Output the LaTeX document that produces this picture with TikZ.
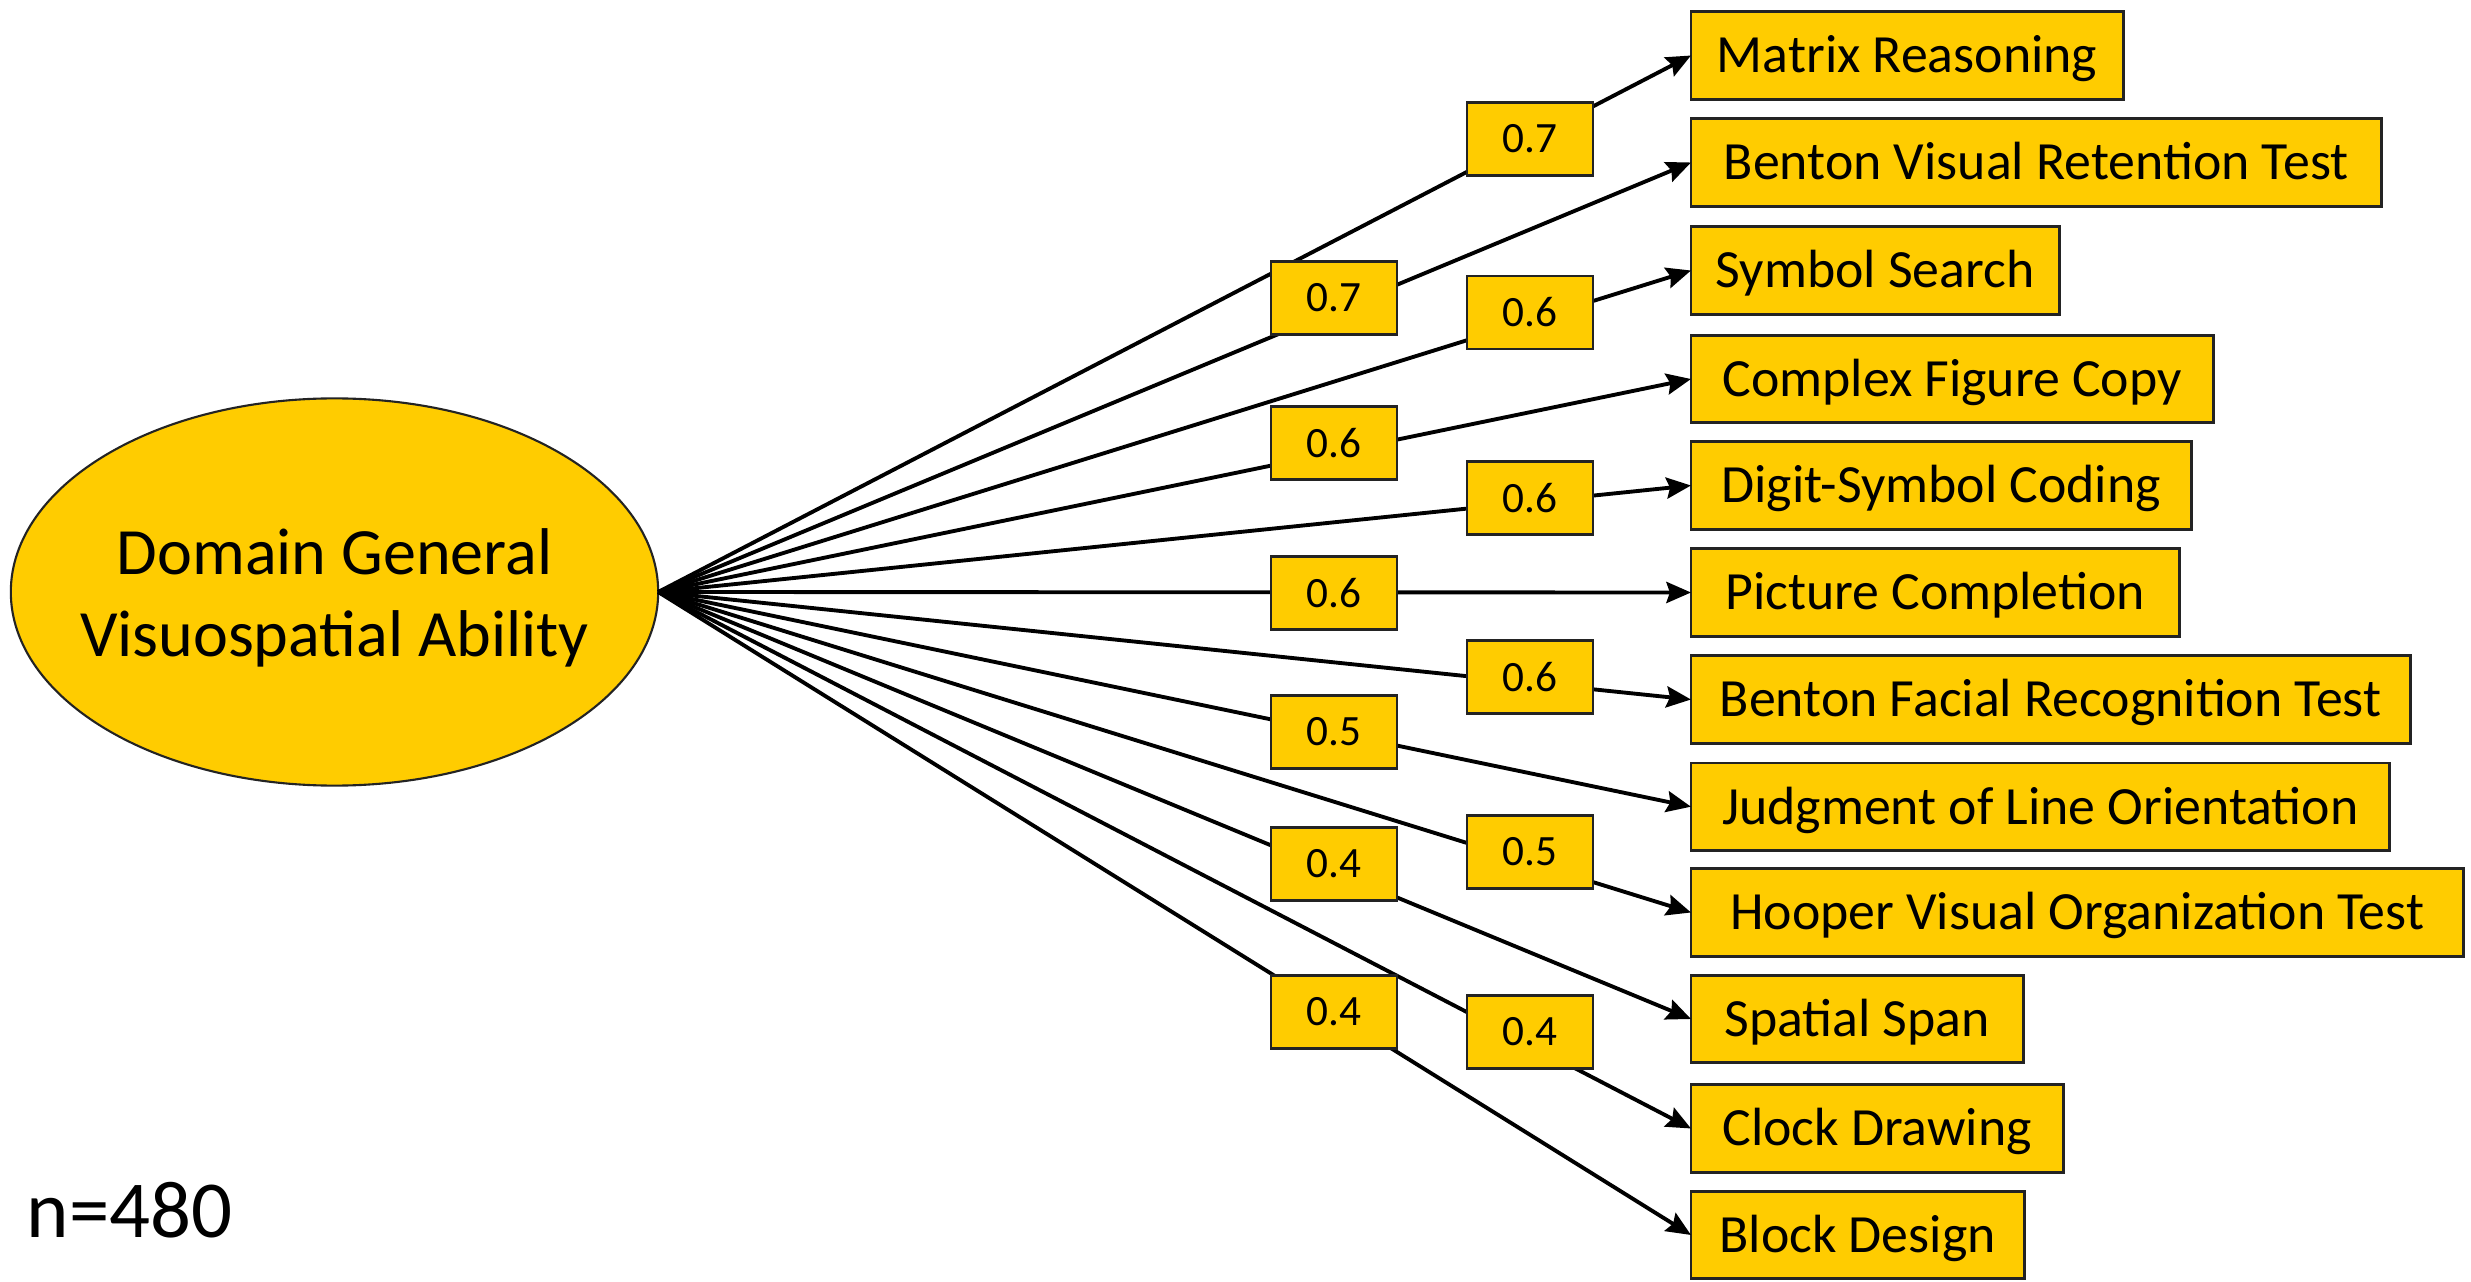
\documentclass[tikz,border=0pt]{standalone}
\usepackage{fontspec}
\setmainfont{Carlito}
\usetikzlibrary{arrows.meta,shapes.geometric}
\definecolor{gold}{RGB}{255,204,0}
\definecolor{edge}{RGB}{35,35,35}
\begin{document}
\begin{tikzpicture}[x=0.01cm,y=-0.01cm,
  latent/.style={ellipse,draw=edge,line width=0.6pt,fill=gold,inner sep=0pt,outer sep=0pt,
    minimum width=6.47cm,minimum height=3.87cm},
  latenttext/.style={align=center,inner sep=0pt,font=\fontsize{18.8}{23.3}\selectfont},
  testbox/.style={draw=edge,line width=0.8pt,fill=gold,inner sep=0pt,outer sep=0pt,
    anchor=west,minimum height=0.875cm,text height=9.9pt,text depth=0pt,
    font=\fontsize{15.3}{18}\selectfont},
  loadbox/.style={draw=edge,line width=0.8pt,fill=gold,inner sep=0pt,outer sep=0pt,
    minimum width=1.26cm,minimum height=0.73cm,font=\fontsize{12.3}{14}\selectfont},
  link/.style={line width=1.1pt,-{Stealth[length=7pt,width=6pt,inset=1pt]}}]
\useasboundingbox (0,0) rectangle (2471,1282);

% latent factor
\node[latent] (g) at (334.5,592) {};
\node[latenttext,yshift=-1.8pt] (gl) at (g.center) {Domain General\\Visuospatial Ability};

% indicator tests
\node[testbox,minimum width=4.32cm] (t1)  at (1691,55.5)  {Matrix Reasoning};
\node[testbox,minimum width=6.90cm] (t2)  at (1691,162.5) {Benton Visual Retention Test};
\node[testbox,minimum width=3.68cm] (t3)  at (1691,270.5) {Symbol Search};
\node[testbox,minimum width=5.22cm] (t4)  at (1691,379)   {Complex Figure Copy};
\node[testbox,minimum width=5.00cm] (t5)  at (1691,485.5) {Digit-Symbol Coding};
\node[testbox,minimum width=4.88cm] (t6)  at (1691,592.5) {Picture Completion};
\node[testbox,minimum width=7.19cm] (t7)  at (1691,699.5) {Benton Facial Recognition Test};
\node[testbox,minimum width=6.98cm] (t8)  at (1691,806.7) {Judgment of Line Orientation};
\node[testbox,minimum width=7.72cm] (t9)  at (1691,912.5) {Hooper Visual Organization Test};
\node[testbox,minimum width=3.32cm] (t10) at (1691,1019)  {Spatial Span};
\node[testbox,minimum width=3.72cm] (t11) at (1691,1128.5){Clock Drawing};
\node[testbox,minimum width=3.33cm] (t12) at (1691,1235)  {Block Design};

% factor loading paths
\foreach \i in {1,...,12}
  \draw[link] (g.east) -- (t\i.west);

% loading labels, drawn over the paths
\node[loadbox] (w1)  at (1530,139)    {0.7};
\node[loadbox] (w2)  at (1334,298)    {0.7};
\node[loadbox] (w3)  at (1530,312.5)  {0.6};
\node[loadbox] (w4)  at (1334,443.3)  {0.6};
\node[loadbox] (w5)  at (1530,498)    {0.6};
\node[loadbox] (w6)  at (1334,593)    {0.6};
\node[loadbox] (w7)  at (1530,677)    {0.6};
\node[loadbox] (w8)  at (1334,732)    {0.5};
\node[loadbox] (w9)  at (1530,851.7)  {0.5};
\node[loadbox] (w10) at (1334,864)    {0.4};
\node[loadbox] (w11) at (1530,1032)   {0.4};
\node[loadbox] (w12) at (1334,1011.7) {0.4};

% sample size
\node[anchor=base west,inner sep=0pt,font=\fontsize{23}{27}\selectfont] (n) at (26,1237) {n=480};
\end{tikzpicture}
\end{document}
